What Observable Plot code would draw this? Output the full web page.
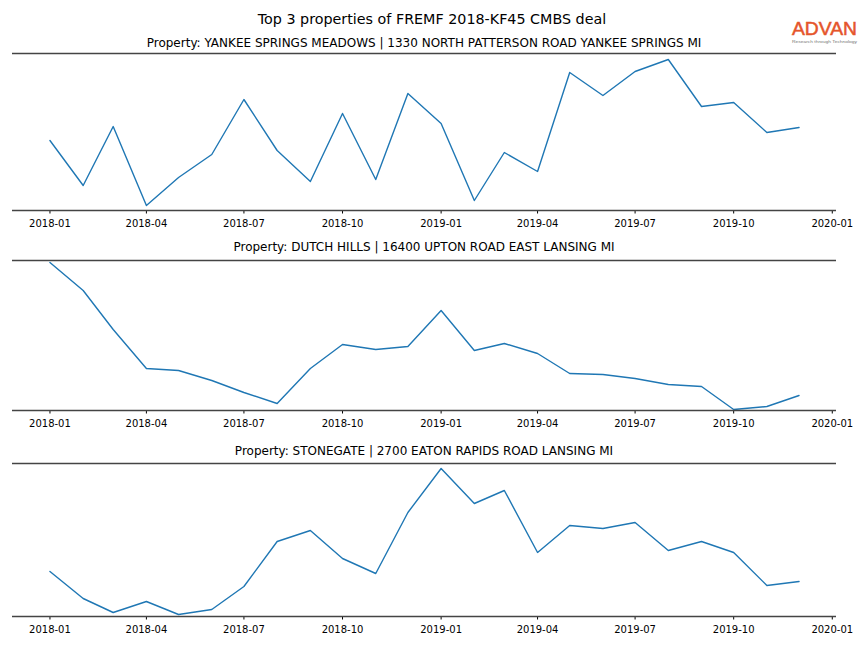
<!DOCTYPE html>
<html>
<head>
<meta charset="utf-8">
<script src="https://cdn.jsdelivr.net/npm/d3@7"></script>
<script src="https://cdn.jsdelivr.net/npm/@observablehq/plot@0.6"></script>
<style>
  html, body { margin: 0; padding: 0; background: #fff; }
  #page { position: relative; width: 864px; height: 648px; overflow: hidden; font-family: "DejaVu Sans", sans-serif; }
  #page > .panel { position: absolute; left: 0; }
  #overlay { position: absolute; left: 0; top: 0; }
</style>
</head>
<body>
<div id="page"></div>
<script>
// ---- data ----
const months = ["2018-01","2018-02","2018-03","2018-04","2018-05","2018-06","2018-07","2018-08","2018-09","2018-10","2018-11","2018-12",
                "2019-01","2019-02","2019-03","2019-04","2019-05","2019-06","2019-07","2019-08","2019-09","2019-10","2019-11","2019-12"];
const yankeeSprings = [70,25,84,5,33,56,111,60,29,97,31,117,87,10,58,39,138,115,139,151,104,108,78,83];
const dutchHills    = [148,120,81,42,40,30,18,7,42,66,61,64,100,60,67,57,37,36,32,26,24,1,4,15];
const stonegate     = [45,18,4,15,2,7,30,75,86,58,43,104,148,113,126,64,91,88,94,66,75,64,31,35];
const tickLabels = ["2018-01","2018-04","2018-07","2018-10","2019-01","2019-04","2019-07","2019-10","2020-01"];
const mainTitle = "Top 3 properties of FREMF 2018-KF45 CMBS deal";
const panelTitles = [
  "Property: YANKEE SPRINGS MEADOWS | 1330 NORTH PATTERSON ROAD YANKEE SPRINGS MI",
  "Property: DUTCH HILLS | 16400 UPTON ROAD EAST LANSING MI",
  "Property: STONEGATE | 2700 EATON RAPIDS ROAD LANSING MI"
];
const series = [yankeeSprings, dutchHills, stonegate];
const yMax = [157, 150, 153];

// ---- layout ----
const panelTop = [53, 260, 462.5];
const titleBaseline = [46.5, 250.5, 454.5];
const W = 864, mTop = 2, mBottom = 30;

const parse = d3.utcParse("%Y-%m");
const dates = months.map(parse);
const ticks = tickLabels.map(parse);
const t0 = +dates[0], t1 = +dates[dates.length - 1];
const pad = (t1 - t0) * 0.05;
const xDomain = [new Date(t0 - pad), new Date(t1 + pad)];

const page = document.getElementById("page");

series.forEach((vals, i) => {
  const data = vals.map((v, j) => ({date: dates[j], value: v}));
  const H = yMax[i];
  const chart = Plot.plot({
    width: W,
    height: H + mTop + mBottom,
    marginTop: mTop,
    marginBottom: mBottom,
    marginLeft: 12,
    marginRight: 28,
    style: {fontFamily: "DejaVu Sans, sans-serif", fontSize: "10px", background: "transparent", color: "#000"},
    x: {type: "utc", domain: xDomain, ticks: ticks, tickFormat: d3.utcFormat("%Y-%m"), tickSize: 3.5, tickPadding: 5.5, label: null},
    y: {domain: [0, H], axis: null},
    marks: [
      Plot.line(data, {x: "date", y: "value", stroke: "#1f77b4", strokeWidth: 1.4}),
      Plot.ruleY([0, H], {stroke: "#444", strokeWidth: 1.6})
    ]
  });
  chart.classList.add("panel");
  chart.style.top = (panelTop[i] - mTop) + "px";
  page.appendChild(chart);
});

// ---- overlay text ----
const svg = d3.create("svg").attr("id", "overlay").attr("width", W).attr("height", 648)
  .style("font-family", "DejaVu Sans, sans-serif");
svg.append("text").attr("x", 432).attr("y", 24).attr("text-anchor", "middle")
  .attr("font-size", 14.3).attr("fill", "#000").text(mainTitle);
panelTitles.forEach((t, i) => {
  svg.append("text").attr("x", 424).attr("y", titleBaseline[i]).attr("text-anchor", "middle")
    .attr("font-size", 12).attr("fill", "#000").text(t);
});
svg.append("text").attr("x", 792).attr("y", 34.5).attr("font-family", "Liberation Sans, Arial, sans-serif")
  .attr("font-size", 18).attr("fill", "#e5552b").attr("stroke", "#e5552b").attr("stroke-width", 0.5)
  .attr("textLength", 65).attr("lengthAdjust", "spacingAndGlyphs").text("ADVAN");
svg.append("text").attr("x", 792).attr("y", 42.5).attr("font-family", "Liberation Sans, Arial, sans-serif")
  .attr("font-size", 4).attr("fill", "#777").attr("textLength", 65).attr("lengthAdjust", "spacingAndGlyphs").text("Research through Technology");
page.appendChild(svg.node());
</script>
</body>
</html>
